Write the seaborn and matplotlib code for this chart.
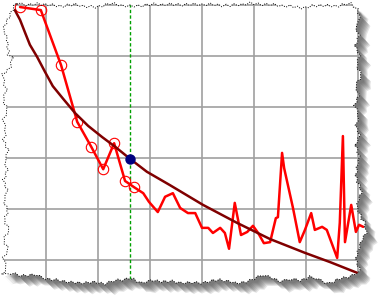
import numpy as np
import pandas as pd
import matplotlib
matplotlib.use("Agg")
import matplotlib.pyplot as plt
import seaborn as sns
from matplotlib.patches import Polygon

# ---- data (grid lines at integer values) ----
red_x = [0.50, 0.90, 1.29, 1.60, 1.87, 2.10, 2.31, 2.52, 2.69,
         2.87, 2.98, 3.15, 3.29, 3.44, 3.58, 3.73, 3.87,
         4.00, 4.12, 4.21, 4.35, 4.44, 4.52, 4.63, 4.75, 4.87, 4.98,
         5.08, 5.19, 5.31, 5.42, 5.46, 5.54, 5.58, 5.75, 5.88, 5.98,
         6.10, 6.17, 6.31, 6.40, 6.60, 6.65, 6.71, 6.75, 6.87, 6.96,
         7.02, 7.10]
red_y = [5.96, 5.90, 4.82, 3.71, 3.22, 2.78, 3.29, 2.55, 2.43,
         2.31, 2.14, 1.94, 2.24, 2.31, 2.02, 1.92, 1.92,
         1.63, 1.63, 1.53, 1.63, 1.53, 1.22, 2.12, 1.49, 1.55, 1.67,
         1.53, 1.33, 1.35, 1.82, 1.84, 3.10, 2.80, 2.02, 1.35, 1.59,
         1.92, 1.59, 1.65, 1.59, 1.04, 1.73, 3.43, 1.35, 2.08, 1.55,
         1.69, 1.65]
n_marked = 9

fit_x = [0.40, 0.50, 0.60, 0.69, 0.83, 0.98, 1.13, 1.33, 1.56, 1.81,
         2.08, 2.33, 2.62, 2.94, 3.38, 4.02, 4.67, 5.31, 5.98, 6.46, 6.98]
fit_y = [5.90, 5.71, 5.45, 5.22, 4.98, 4.69, 4.41, 4.16, 3.88, 3.63,
         3.41, 3.22, 2.98, 2.73, 2.47, 2.08, 1.73, 1.41, 1.14, 0.96, 0.75]

cursor_x = 2.62
cursor_y = 2.98

x_ticks = [1, 2, 3, 4, 5, 6, 7]
y_ticks = [1, 2, 3, 4, 5, 6]

# ---- figure ----
sns.set_theme(style="white")
W, H = 378, 296
fig = plt.figure(figsize=(W / 100, H / 100), dpi=100)
fig.patch.set_facecolor("white")
ax = fig.add_axes([0, 0, 1, 1])
ax.set_xlim(0.115, 7.385)
ax.set_ylim(0.294, 6.098)

# torn paper outline (pixel coords, decoration only)
top = [(17, 3), (30, 5), (45, 4), (60, 6), (75, 5), (95, 7), (110, 4), (130, 6),
       (150, 5), (170, 4), (190, 5), (210, 4), (230, 6), (250, 3), (270, 5),
       (290, 6), (305, 8), (320, 5), (335, 6), (350, 4), (358, 9)]
right = [(360, 20), (356, 25), (359, 35), (355, 45), (360, 55), (357, 65), (361, 75),
         (356, 85), (359, 95), (355, 105), (358, 115), (356, 125), (360, 135),
         (356, 145), (359, 160), (356, 175), (361, 192), (357, 208), (364, 222),
         (366, 232), (359, 248), (356, 262), (360, 272)]
bottom = [(352, 276), (340, 279), (330, 283), (320, 280), (310, 277), (300, 281),
          (290, 279), (280, 281), (268, 277), (262, 275), (250, 281), (235, 283),
          (220, 280), (205, 282), (192, 283), (180, 283), (168, 281), (150, 281),
          (140, 283), (130, 278), (118, 280), (105, 284), (90, 282), (75, 283),
          (60, 281), (45, 278), (35, 275), (20, 276), (10, 273), (3, 275)]
left = [(6, 268), (3, 258), (8, 250), (4, 240), (9, 230), (4, 220), (8, 210),
        (4, 200), (7, 190), (3, 180), (8, 170), (5, 160), (8, 150), (3, 140),
        (6, 130), (4, 120), (7, 110), (3, 100), (6, 90), (4, 80), (3, 75),
        (10, 67), (13, 58), (8, 55), (8, 40), (3, 30), (7, 20), (17, 3)]
anchors = top + right + bottom + left


def jag(pts, step=3.5, amp=(1.2, -0.8, 1.6, -1.4, 0.6, -1.8, 1.0, -0.5, 1.4, -1.1)):
    out = []
    k = 0
    for (x0, y0), (x1, y1) in zip(pts[:-1], pts[1:]):
        L = np.hypot(x1 - x0, y1 - y0)
        n = max(1, int(L // step))
        nx, ny = -(y1 - y0) / L, (x1 - x0) / L
        for i in range(n):
            t = i / n
            a = amp[k % len(amp)]
            k += 1
            out.append((x0 + t * (x1 - x0) + a * nx, y0 + t * (y1 - y0) + a * ny))
    out.append(pts[-1])
    return np.array(out)


paper_px = jag(anchors)


def to_fig(p):
    return np.column_stack([p[:, 0] / W, 1 - p[:, 1] / H])


paper = Polygon(to_fig(paper_px), closed=True, transform=fig.transFigure,
                fc="white", ec="none")

# shadow (blurred offset copies)
for d in np.linspace(3, 10, 8):
    sh = Polygon(to_fig(paper_px + np.array([d, d])), closed=True,
                 transform=fig.transFigure, fc="#4a4a4a", ec="none",
                 alpha=0.15, zorder=-2)
    fig.add_artist(sh)

ax.patch.set_facecolor("white")

# grid
ax.set_xticks(x_ticks)
ax.set_yticks(y_ticks)
ax.tick_params(length=0, labelbottom=False, labelleft=False)
ax.grid(True, color="#a0a0a0", lw=1.2)
for s in ax.spines.values():
    s.set_visible(False)

# data lines
df_red = pd.DataFrame({"x": red_x, "y": red_y})
df_fit = pd.DataFrame({"x": fit_x, "y": fit_y})
sns.lineplot(data=df_red, x="x", y="y", color="#ff0000", lw=1.8, sort=False,
             ax=ax, zorder=3)
ax.plot(red_x[:n_marked], red_y[:n_marked], "o", mfc="none", mec="#ff0000",
        ms=7.5, mew=0.8, zorder=4)
sns.lineplot(data=df_fit, x="x", y="y", color="#800000", lw=1.8, sort=False,
             ax=ax, zorder=4)
ax.axvline(cursor_x, color="#00a000", lw=1.0, ls=(0, (2.4, 1.6)), zorder=2)
ax.plot([cursor_x], [cursor_y], "o", color="#000080", ms=6.5, zorder=5)
ax.set_xlabel("")
ax.set_ylabel("")
ax.set_xlim(0.115, 7.385)
ax.set_ylim(0.294, 6.098)

# clip everything to the paper
for art in ax.get_children():
    art.set_clip_path(paper)
for gl in ax.get_xgridlines() + ax.get_ygridlines():
    gl.set_clip_path(paper)
ax.patch.set_clip_path(paper)

edge = Polygon(to_fig(paper_px), closed=True, transform=fig.transFigure,
               fill=False, ec="black", lw=0.7, ls=(0, (1.0, 1.6)), zorder=10)
fig.add_artist(edge)

fig.savefig("out.png", dpi=100, facecolor="white")
